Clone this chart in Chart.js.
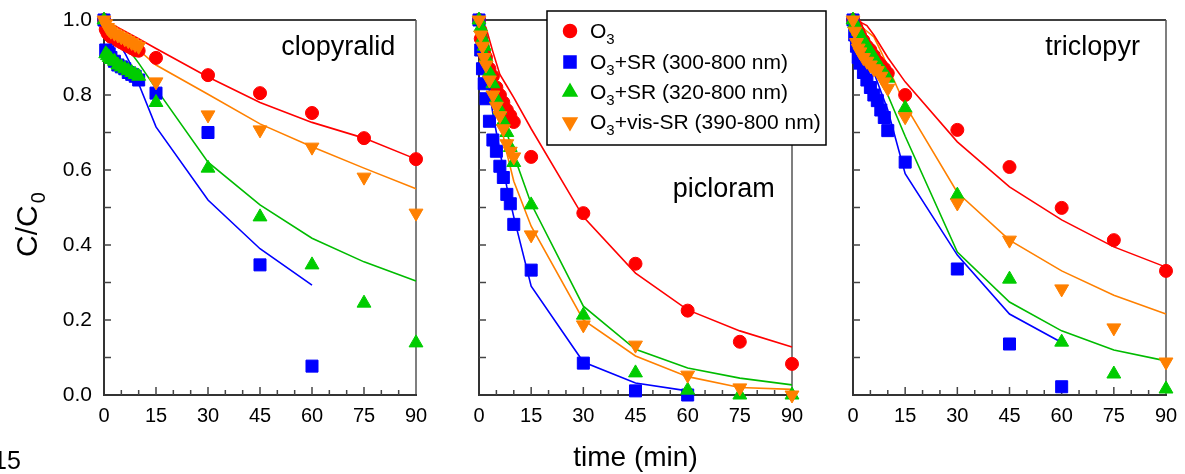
<!DOCTYPE html>
<html>
<head>
<meta charset="utf-8">
<script src="https://cdn.jsdelivr.net/npm/chart.js@4.4.1/dist/chart.umd.min.js"></script>
<style>
  html, body { margin: 0; padding: 0; background: #fff; }
  #wrap { position: relative; width: 1185px; height: 474px; overflow: hidden; }
  #wrap canvas { position: absolute; left: 0; top: 0; }
  .pageno { position: absolute; left: -7px; top: 446px; font: 25px "Liberation Sans", Arial, sans-serif; color: #000; }
</style>
</head>
<body>
<div id="wrap">
  <canvas id="cloChart" width="1185" height="474"></canvas>
  <canvas id="picChart" width="1185" height="474"></canvas>
  <canvas id="triChart" width="1185" height="474"></canvas>
  <div class="pageno">15</div>
</div>
<script>
// sampling times (min) for measured points and for the kinetic model curves
const expTime   = [0, 0.5, 1, 1.5, 2, 3, 4, 5, 6, 7, 8, 9, 10, 15, 30, 45, 60, 75, 90];
const modelTime = [0, 2, 4, 6, 8, 10, 15, 30, 45, 60, 75, 90];

const panelNames = ['clopyralid', 'picloram', 'triclopyr'];
const seriesLabels = ['+SR (300-800 nm)', '+SR (320-800 nm)', '+vis-SR (390-800 nm)'];

// clopyralid, C/C0
const cloO3     = [1.0, 0.975, 0.965, 0.96, 0.955, 0.95, 0.945, 0.94, 0.935, 0.93, 0.925, 0.92, 0.918, 0.899, 0.853, 0.805, 0.752, 0.685, 0.629];
const cloSR300  = [1.0, 0.92, 0.915, 0.91, 0.90, 0.89, 0.88, 0.875, 0.87, 0.86, 0.855, 0.85, 0.84, 0.805, 0.70, 0.347, 0.077, null, null];
const cloSR320  = [1.0, 0.91, 0.905, 0.90, 0.895, 0.89, 0.88, 0.875, 0.87, 0.865, 0.86, 0.855, 0.85, 0.78, 0.605, 0.475, 0.347, 0.245, 0.139];
const cloVisSR  = [1.0, 0.99, 0.98, 0.975, 0.97, 0.965, 0.96, 0.955, 0.95, 0.945, 0.94, 0.935, 0.93, 0.835, 0.747, 0.707, 0.661, 0.581, 0.485];
const cloO3Fit    = [1.0, 0.99, 0.98, 0.97, 0.96, 0.95, 0.924, 0.848, 0.78, 0.727, 0.685, 0.629];
const cloSR300Fit = [1.0, 0.975, 0.945, 0.912, 0.876, 0.83, 0.715, 0.52, 0.39, 0.293, null, null];
const cloSR320Fit = [1.0, 0.98, 0.96, 0.935, 0.91, 0.885, 0.817, 0.621, 0.507, 0.418, 0.355, 0.304];
const cloVisSRFit = [1.0, 0.984, 0.968, 0.952, 0.936, 0.92, 0.88, 0.802, 0.723, 0.662, 0.605, 0.55];

// picloram
const picO3     = [1.0, 0.95, 0.93, 0.91, 0.90, 0.87, 0.85, 0.82, 0.80, 0.78, 0.76, 0.745, 0.728, 0.635, 0.485, 0.35, 0.225, 0.142, 0.083];
const picSR300  = [1.0, 0.92, 0.87, 0.83, 0.79, 0.73, 0.68, 0.65, 0.61, 0.58, 0.535, 0.51, 0.455, 0.333, 0.085, 0.011, 0.0, null, null];
const picSR320  = [1.0, 0.98, 0.95, 0.93, 0.90, 0.86, 0.83, 0.79, 0.76, 0.73, 0.70, 0.66, 0.62, 0.507, 0.213, 0.059, 0.013, 0.0, 0.0];
const picVisSR  = [1.0, 0.96, 0.93, 0.90, 0.88, 0.84, 0.80, 0.77, 0.745, 0.71, 0.67, 0.65, 0.635, 0.427, 0.187, 0.133, 0.053, 0.019, 0.0];
const picO3Fit    = [1.0, 0.98, 0.915, 0.855, 0.824, 0.793, 0.71, 0.475, 0.325, 0.227, 0.171, 0.128];
const picSR300Fit = [1.0, 0.87, 0.75, 0.65, 0.555, 0.475, 0.29, 0.088, 0.032, 0.011, null, null];
const picSR320Fit = [1.0, 0.97, 0.875, 0.78, 0.70, 0.64, 0.51, 0.237, 0.122, 0.072, 0.045, 0.027];
const picVisSRFit = [1.0, 0.96, 0.85, 0.735, 0.645, 0.57, 0.45, 0.20, 0.104, 0.049, 0.02, 0.015];

// triclopyr
const triO3     = [1.0, 0.99, 0.98, 0.97, 0.96, 0.945, 0.93, 0.92, 0.905, 0.89, 0.88, 0.87, 0.858, 0.80, 0.707, 0.608, 0.499, 0.413, 0.331];
const triSR300  = [1.0, 0.96, 0.93, 0.90, 0.885, 0.86, 0.84, 0.82, 0.80, 0.785, 0.76, 0.74, 0.705, 0.621, 0.336, 0.136, 0.022, null, null];
const triSR320  = [1.0, 0.99, 0.98, 0.97, 0.96, 0.945, 0.93, 0.915, 0.90, 0.885, 0.87, 0.858, 0.845, 0.765, 0.533, 0.309, 0.141, 0.056, 0.016];
const triVisSR  = [1.0, 0.97, 0.94, 0.925, 0.915, 0.90, 0.89, 0.88, 0.87, 0.865, 0.85, 0.835, 0.818, 0.742, 0.512, 0.413, 0.283, 0.179, 0.088];
const triO3Fit    = [1.0, 0.995, 0.985, 0.96, 0.93, 0.90, 0.835, 0.675, 0.555, 0.467, 0.395, 0.341];
const triSR300Fit = [1.0, 0.95, 0.90, 0.86, 0.81, 0.76, 0.59, 0.373, 0.216, 0.14, null, null];
const triSR320Fit = [1.0, 0.975, 0.943, 0.90, 0.853, 0.80, 0.69, 0.381, 0.248, 0.171, 0.12, 0.091];
const triVisSRFit = [1.0, 0.985, 0.97, 0.955, 0.917, 0.876, 0.773, 0.54, 0.413, 0.331, 0.266, 0.216];

const FONT = '"Liberation Sans", Arial, Helvetica, sans-serif';

// marker style per treatment: O3, O3+SR(300), O3+SR(320), O3+vis-SR
const styles = [
  { color: '#ff0000', pointStyle: 'circle',   radius: 6.5, rotation: 0 },
  { color: '#0000ff', pointStyle: 'rect',     radius: 8.5, rotation: 0 },
  { color: '#00cc00', pointStyle: 'triangle', radius: 8,   rotation: 0 },
  { color: '#ff8000', pointStyle: 'triangle', radius: 8,   rotation: 180 }
];
const lineColors = ['#ff0000', '#0000ff', '#00bb00', '#ff8000'];

function toPoints(times, values) {
  const pts = [];
  values.forEach((v, i) => { if (v !== null) pts.push({ x: times[i], y: v }); });
  return pts;
}

function line(ctx, x1, y1, x2, y2) {
  ctx.beginPath(); ctx.moveTo(x1, y1); ctx.lineTo(x2, y2); ctx.stroke();
}

// frame, inward ticks, compound name, y title and legend
const panelDecor = {
  id: 'panelDecor',
  beforeDatasetsDraw(chart, args, opts) {
    const { ctx, chartArea: a, scales: { x, y } } = chart;
    ctx.save();
    ctx.lineCap = 'butt';
    ctx.strokeStyle = '#000'; ctx.lineWidth = 1.5;
    line(ctx, a.left, a.top, a.right, a.top);
    ctx.strokeStyle = '#555';
    line(ctx, a.right, a.top, a.right, a.bottom);
    ctx.strokeStyle = '#333'; ctx.lineWidth = 2;
    line(ctx, a.left, a.top - 1, a.left, a.bottom + 1);
    line(ctx, a.left - 1, a.bottom, a.right + 1, a.bottom);

    ctx.lineWidth = 1.5; ctx.strokeStyle = '#444';
    for (let t = 5; t < 90; t += 5) {
      const px = x.getPixelForValue(t);
      line(ctx, px, a.bottom, px, a.bottom - (t % 15 === 0 ? 8 : 5));
    }
    for (let i = 1; i < 10; i++) {
      const py = y.getPixelForValue(i / 10);
      line(ctx, a.left, py, a.left + 7, py);
    }

    ctx.fillStyle = '#000';
    ctx.font = '27px ' + FONT;
    ctx.textAlign = 'center';
    ctx.textBaseline = 'alphabetic';
    ctx.fillText(opts.name, x.getPixelForValue(opts.nameAt[0]), y.getPixelForValue(opts.nameAt[1]));

    if (opts.yTitle) {
      ctx.translate(37, 257);
      ctx.rotate(-Math.PI / 2);
      ctx.textAlign = 'left';
      ctx.font = '30px ' + FONT;
      ctx.fillText('C/C', 0, 0);
      const w = ctx.measureText('C/C').width;
      ctx.font = '20px ' + FONT;
      ctx.fillText('0', w + 2, 8);
    }
    ctx.restore();
  },
  afterDraw(chart, args, opts) {
    if (!opts.legend) return;
    const ctx = chart.ctx;
    ctx.save();
    ctx.fillStyle = '#fff';
    ctx.fillRect(547, 11, 279, 134);
    ctx.strokeStyle = '#000'; ctx.lineWidth = 1.5;
    ctx.strokeRect(547, 11, 279, 134);
    const rows = [31, 62, 92, 122];
    styles.forEach((s, i) => {
      ctx.fillStyle = s.color; ctx.strokeStyle = s.color;
      Chart.helpers.drawPoint(ctx, { pointStyle: s.pointStyle, radius: s.radius, rotation: s.rotation, borderWidth: 1 }, 570, rows[i]);
      ctx.fillStyle = '#000';
      ctx.textBaseline = 'alphabetic';
      ctx.textAlign = 'left';
      ctx.font = '21px ' + FONT;
      const base = rows[i] + 7;
      ctx.fillText('O', 590, base);
      let xx = 590 + ctx.measureText('O').width;
      ctx.font = '15px ' + FONT;
      ctx.fillText('3', xx, base + 6);
      xx += ctx.measureText('3').width;
      if (i > 0) {
        ctx.font = '21px ' + FONT;
        ctx.fillText(seriesLabels[i - 1], xx, base);
      }
    });
    ctx.restore();
  }
};

function makeChart(id, panel) {
  const datasets = [];
  panel.fits.forEach((vals, i) => {
    datasets.push({
      data: toPoints(modelTime, vals), showLine: true, pointRadius: 0,
      borderColor: lineColors[i], borderWidth: 1.6, tension: 0, clip: false, order: 10
    });
  });
  const drawOrder = [4, 3, 2, 1];
  panel.exp.forEach((vals, i) => {
    const s = styles[i];
    datasets.push({
      data: toPoints(expTime, vals), showLine: false,
      pointStyle: s.pointStyle, pointRadius: s.radius, pointRotation: s.rotation,
      backgroundColor: s.color, borderColor: s.color, pointBorderWidth: 1,
      clip: false, order: drawOrder[i]
    });
  });

  return new Chart(document.getElementById(id), {
    type: 'scatter',
    data: { datasets },
    options: {
      responsive: false,
      animation: false,
      devicePixelRatio: 1,
      layout: { padding: { left: 0, top: 20, right: panel.padRight, bottom: 0 } },
      plugins: {
        legend: { display: false },
        tooltip: { enabled: false },
        panelDecor: { name: panel.name, nameAt: panel.nameAt, yTitle: panel.yLabels, legend: panel.legend }
      },
      scales: {
        x: {
          type: 'linear', min: 0, max: 90,
          border: { display: false },
          grid: { display: false },
          ticks: { stepSize: 15, autoSkip: false, maxRotation: 0, padding: 1, color: '#000', font: { family: FONT, size: 20 } },
          title: { display: panel.xTitle, text: 'time (min)', color: '#000', font: { family: FONT, size: 28 }, padding: { top: 0, bottom: -1 } },
          afterFit: s => { s.height = 79; }
        },
        y: {
          type: 'linear', min: 0, max: 1,
          border: { display: false },
          grid: { display: false },
          ticks: { display: panel.yLabels, stepSize: 0.2, padding: 4, color: '#000', font: { family: FONT, size: 21 }, callback: v => v.toFixed(1) },
          afterFit: s => { s.width = panel.left; }
        }
      }
    },
    plugins: [panelDecor]
  });
}

makeChart('cloChart', {
  name: panelNames[0], nameAt: [67.6, 0.907], left: 104, padRight: 769, yLabels: true, xTitle: false, legend: false,
  exp: [cloO3, cloSR300, cloSR320, cloVisSR], fits: [cloO3Fit, cloSR300Fit, cloSR320Fit, cloVisSRFit]
});
makeChart('picChart', {
  name: panelNames[1], nameAt: [70.4, 0.528], left: 479, padRight: 393, yLabels: false, xTitle: true, legend: true,
  exp: [picO3, picSR300, picSR320, picVisSR], fits: [picO3Fit, picSR300Fit, picSR320Fit, picVisSRFit]
});
makeChart('triChart', {
  name: panelNames[2], nameAt: [68.9, 0.907], left: 853, padRight: 19, yLabels: false, xTitle: false, legend: false,
  exp: [triO3, triSR300, triSR320, triVisSR], fits: [triO3Fit, triSR300Fit, triSR320Fit, triVisSRFit]
});
</script>
</body>
</html>
